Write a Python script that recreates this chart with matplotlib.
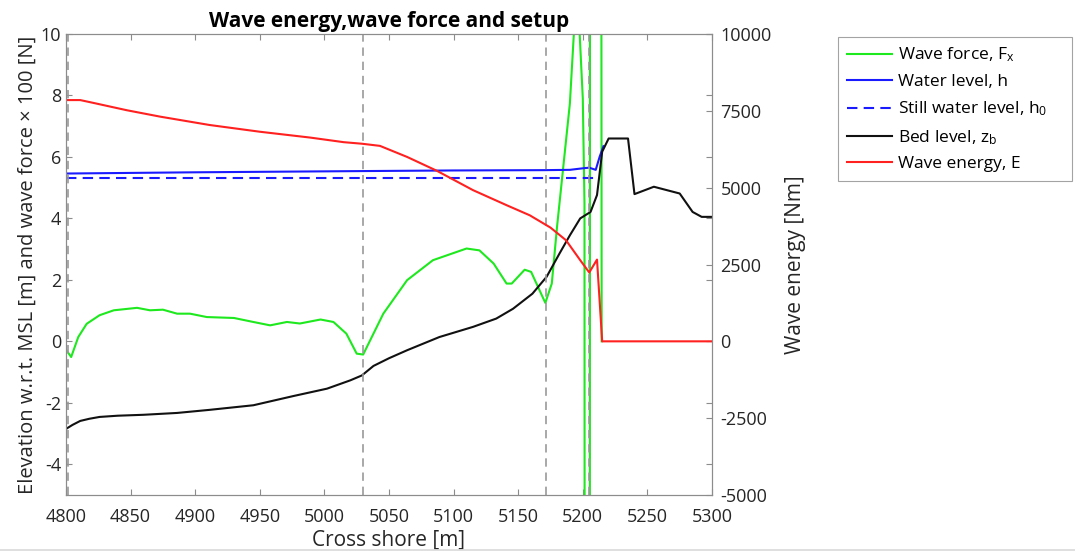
import numpy as np
import matplotlib.pyplot as plt
from matplotlib.lines import Line2D

plt.rcParams['font.family'] = ['Open Sans', 'DejaVu Sans']
plt.rcParams['mathtext.default'] = 'regular'
plt.rcParams['axes.unicode_minus'] = False

# bed level z_b [m]
bed_x = [4800, 4805, 4811, 4818, 4826, 4840, 4860, 4886, 4911, 4945, 4976, 5002,
         5020, 5029, 5038, 5050, 5064, 5089, 5115, 5133, 5146, 5161, 5172, 5182,
         5190, 5198, 5206, 5211, 5215, 5220, 5235, 5240, 5255, 5265, 5275, 5285,
         5292, 5300]
bed_z = [-2.85, -2.72, -2.59, -2.52, -2.46, -2.42, -2.39, -2.33, -2.23, -2.08, -1.78, -1.54,
         -1.27, -1.11, -0.80, -0.55, -0.29, 0.14, 0.47, 0.74, 1.06, 1.55, 2.10, 2.86,
         3.45, 4.00, 4.21, 4.76, 6.17, 6.60, 6.60, 4.79, 5.03, 4.92, 4.81, 4.21,
         4.05, 4.05]

# water level h and still water level h0 [m]
h_x = [4800, 4900, 5030, 5100, 5170, 5190, 5200, 5205, 5210, 5213, 5216]
h = [5.46, 5.50, 5.54, 5.56, 5.57, 5.58, 5.63, 5.65, 5.58, 6.00, 6.35]
h0_x = [4800, 5210]
h0 = [5.30, 5.30]

# wave energy E [Nm]
e_x = [4800, 4811, 4821, 4847, 4873, 4911, 4950, 4989, 5015, 5029, 5043, 5064,
       5087, 5115, 5141, 5159, 5175, 5187, 5198, 5205, 5211, 5215, 5300]
energy = [7850, 7850, 7760, 7520, 7310, 7040, 6820, 6630, 6480, 6430, 6360, 6000,
          5550, 4920, 4430, 4100, 3700, 3290, 2640, 2240, 2660, 0, 0]

# wave force F_x (plotted scale)
fx_x = [4800, 4804, 4809.5, 4816, 4826, 4837, 4855, 4865, 4875, 4886, 4896, 4909,
        4930, 4945, 4958, 4971, 4981, 4997, 5007, 5017, 5025, 5030, 5045.6, 5064,
        5084, 5110, 5120, 5131, 5141, 5145, 5155, 5160, 5171, 5176, 5180, 5190,
        5195.5, 5200, 5201.3, 5204, 5207, 5209, 5214.6]
fx = [-0.27, -0.51, 0.14, 0.57, 0.85, 1.01, 1.09, 1.01, 1.03, 0.90, 0.90, 0.79,
      0.76, 0.63, 0.52, 0.63, 0.58, 0.71, 0.63, 0.25, -0.40, -0.43, 0.90, 1.99,
      2.64, 3.02, 2.96, 2.53, 1.88, 1.88, 2.33, 2.26, 1.25, 1.88, 3.70, 7.74,
      11.8, 7.9, 4.5, -300, 300, 300, 0]

# section markers
marker_x = [4801.5, 5029.5, 5171.5, 5204.5]

axcol = '#8c8c8c'
txtcol = '#262626'

fig = plt.figure(figsize=(10.75, 5.59), dpi=100)
ax = fig.add_axes([66/1075, 64/559, 646/1075, 461/559])
ax2 = ax.twinx()

l_f, = ax.plot(fx_x, fx, color='#1ee81e', lw=1.5, label='Wave force, F$_x$')
l_h, = ax.plot(h_x, h, color='#1a1aff', lw=1.5, label='Water level, h')
l_h0, = ax.plot(h0_x, h0, color='#1a1aff', lw=1.5, ls=(0, (5, 3)),
                label='Still water level, h$_0$')
l_b, = ax.plot(bed_x, bed_z, color='#111111', lw=1.5, label='Bed level, z$_b$')
for xm in marker_x:
    ax.axvline(xm, color='#999999', lw=1.2, ls=(0, (5, 3.5)))

l_e, = ax2.plot(e_x, energy, color='#ff2020', lw=1.5, label='Wave energy, E')

ax.set_xlim(4800, 5300)
ax.set_ylim(-5, 10)
ax2.set_ylim(-5000, 10000)
ax.set_xticks(np.arange(4800, 5301, 50))
ax.set_yticks(np.arange(-4, 11, 2))
ax2.set_yticks(np.arange(-5000, 10001, 2500))

ax.tick_params(direction='in', top=True, right=True, length=4, colors=axcol,
               labelcolor=txtcol, labelsize=13)
ax.tick_params(axis='x', pad=9)
ax2.tick_params(direction='in', length=4, colors=axcol, labelcolor=txtcol,
                labelsize=13, pad=6)
for a in (ax, ax2):
    for s in a.spines.values():
        s.set_color(axcol)

ax.set_xlabel('Cross shore [m]', fontsize=15, color=txtcol, labelpad=3)
ax.set_ylabel('Elevation w.r.t. MSL [m] and wave force \u00d7 100 [N]',
              fontsize=14.5, color=txtcol, labelpad=2)
ax2.set_ylabel('Wave energy [Nm]', fontsize=15, color=txtcol, labelpad=10)
ax.set_title('Wave energy,wave force and setup', fontsize=15, fontweight='bold',
             pad=5)

leg = fig.legend(handles=[l_f, l_h, l_h0, l_b, l_e], loc='upper left',
                 bbox_to_anchor=(838/1075, 1 - 183/559, 234/1075, 146/559),
                 mode='expand', borderaxespad=0,
                 fontsize=12.5, frameon=True, fancybox=False, edgecolor=axcol,
                 handlelength=2.6, handletextpad=0.35, borderpad=0.5,
                 labelspacing=0.55)
leg.get_frame().set_linewidth(0.8)

fig.add_artist(Line2D([0, 1], [9/559, 9/559], color='#d9d9d9', lw=1.2))

fig.savefig('out.png', dpi=100)
